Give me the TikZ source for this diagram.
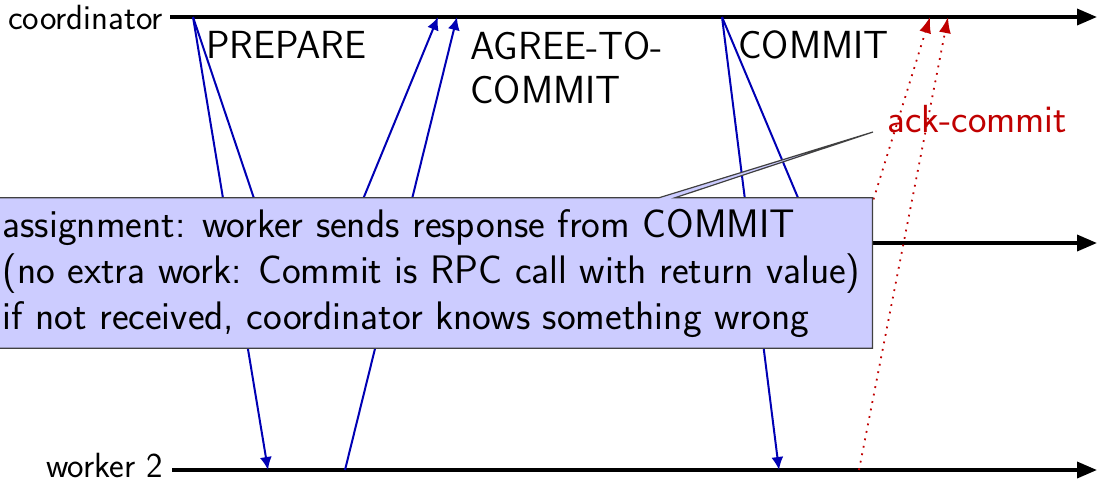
\documentclass[tikz,border=0pt]{standalone}
\usepackage{fontspec}
\usetikzlibrary{arrows.meta,shapes.callouts}
\definecolor{msgblue}{RGB}{0,0,180}
\definecolor{ackred}{RGB}{192,0,0}
\definecolor{notefill}{RGB}{204,204,255}
\begin{document}
\begin{tikzpicture}[x=0.5pt,y=-0.5pt,
  timeline/.style={line width=1.8pt,-{Triangle[length=10pt,width=8pt]}},
  msg/.style={msgblue,line width=1pt,-{Latex[length=6.5pt,width=6pt]}},
  ackmsg/.style={ackred,line width=0.9pt,dash pattern=on 0.9pt off 2.9pt,-{Latex[length=8pt,width=6pt]}},
  proc/.style={anchor=east,inner ysep=0pt,font=\sffamily\fontsize{17.5}{20}\selectfont},
  phase/.style={inner sep=0pt,font=\sffamily\fontsize{19.6}{22}\selectfont},
  note/.style={rectangle callout, draw=black!75, line width=0.6pt, fill=notefill,
    align=left, inner xsep=6pt, inner ysep=5.5pt, callout pointer width=8pt,
    font=\sffamily\fontsize{19.9}{23}\selectfont}
]
\useasboundingbox (0,0) rectangle (1098,484);

% processes and their time lines
\node[proc] (coordlbl) at (170,17) {coordinator};
\node[proc] (w2lbl) at (170,465) {worker 2};
\coordinate (coordend) at (1097,17);
\coordinate (w1start) at (172,243);
\coordinate (w1end) at (1097,243);
\coordinate (w2start) at (172,470);
\coordinate (w2end) at (1097,470);
\draw[timeline] (coordlbl.east) -- (coordend);
\draw[timeline] (w1start) -- (w1end);
\draw[timeline] (w2start) -- (w2end);

% message events
\coordinate (cprep) at (193,17);
\coordinate (w1prep) at (269,243);
\coordinate (w2prep) at (268,470);
\coordinate (w1agree) at (345,243);
\coordinate (w2agree) at (345,470);
\coordinate (cagreeA) at (438,17);
\coordinate (cagreeB) at (457,17);
\coordinate (ccommit) at (722,17);
\coordinate (w1commit) at (817,243);
\coordinate (w2commit) at (779,470);
\coordinate (w1ack) at (860,243);
\coordinate (w2ack) at (859,470);
\coordinate (cackA) at (930,17);
\coordinate (cackB) at (948,17);

% phase 1: prepare / agree
\draw[msg] (cprep) -- (w1prep);
\draw[msg] (cprep) -- (w2prep);
\draw[msg] (w1agree) -- (cagreeA);
\draw[msg] (w2agree) -- (cagreeB);
% phase 2: commit / ack
\draw[msg] (ccommit) -- (w1commit);
\draw[msg] (ccommit) -- (w2commit);
\draw[ackmsg] (w1ack) -- (cackA);
\draw[ackmsg] (w2ack) -- (cackB);

% message labels
\node[phase,anchor=base west] (prepare) at (206,58) {PREPARE};
\node[phase,anchor=north west,align=left] (agree) at (470,31) {AGREE-TO-\\COMMIT};
\node[phase,anchor=base west] (commit) at (738,58) {COMMIT};
\node[phase,anchor=base west,text=ackred] (acklbl) at (887,132) {ack-commit};

% note pointing at the acknowledgement
\coordinate (notetip) at (873,132);
\node[note,callout absolute pointer=(notetip),anchor=west] (note) at (-10,273)
  {assignment: worker sends response from COMMIT\\
   (no extra work: Commit is RPC call with return value)\\
   if not received, coordinator knows something wrong};
\end{tikzpicture}
\end{document}
